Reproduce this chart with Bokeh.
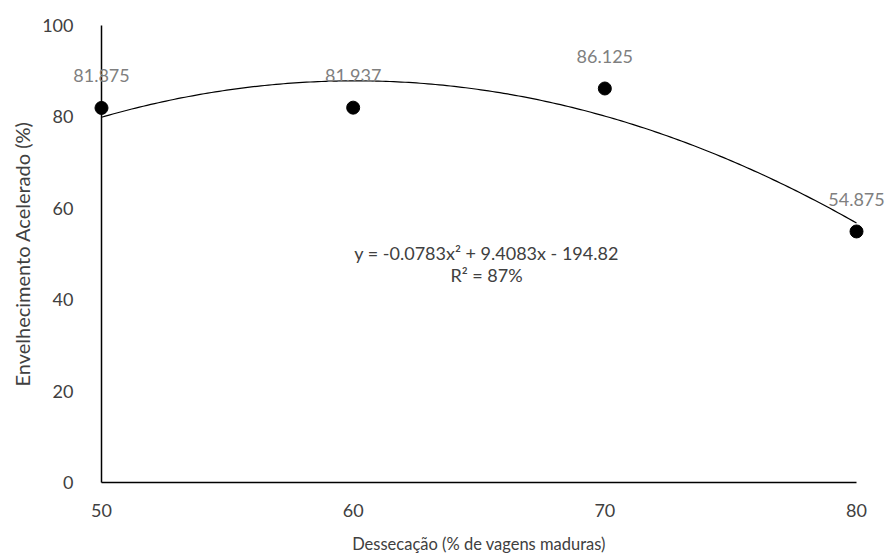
import numpy as np
from bokeh.plotting import figure
from bokeh.models import Range1d, ColumnDataSource, LabelSet, Label, FixedTicker
from bokeh.core.properties import value
from bokeh.embed import file_html
from bokeh.resources import INLINE

# data
dessecacao = [50, 60, 70, 80]
envelhecimento = [81.875, 81.9375, 86.125, 54.875]
point_labels = ["81.875", "81.937", "86.125", "54.875"]
x_ticks = [50, 60, 70, 80]
y_ticks = [0, 20, 40, 60, 80, 100]
# trendline coefficients (as printed on the chart)
coef_a, coef_b, coef_c = -0.0783, 9.4083, -194.82
equation_text = "y = -0.0783x\u00b2 + 9.4083x - 194.82"
r2_text = "R\u00b2 = 87%"

FONT = "Lato"
TXT = "#404040"

p = figure(width=885, height=560, output_backend="svg", toolbar_location=None,
           x_range=Range1d(45.987, 81.152), y_range=Range1d(-17.05, 105.36),
           min_border_left=0, min_border_right=0, min_border_top=0, min_border_bottom=0)
p.outline_line_color = None
p.xgrid.grid_line_color = None
p.ygrid.grid_line_color = None
p.background_fill_color = "white"
p.border_fill_color = "white"

# x axis
xa = p.xaxis[0]
xa.fixed_location = 0
xa.ticker = FixedTicker(ticks=x_ticks)
xa.bounds = (x_ticks[0], x_ticks[-1])
xa.axis_line_color = "black"
xa.axis_line_width = 1.5
xa.major_tick_line_color = None
xa.minor_tick_line_color = None
xa.major_label_standoff = 16
xa.major_label_text_font = FONT
xa.major_label_text_font_size = "18px"
xa.major_label_text_color = TXT
xa.axis_label = "Dessecação (% de vagens maduras)"
xa.axis_label_text_font = FONT
xa.axis_label_text_font_size = "16.5px"
xa.axis_label_text_font_style = "normal"
xa.axis_label_text_color = TXT
xa.axis_label_standoff = 13

# y axis
ya = p.yaxis[0]
ya.fixed_location = 50
ya.ticker = FixedTicker(ticks=y_ticks)
ya.bounds = (y_ticks[0], y_ticks[-1])
ya.axis_line_color = "black"
ya.axis_line_width = 1.5
ya.major_tick_line_color = None
ya.minor_tick_line_color = None
ya.major_label_standoff = 22
ya.major_label_text_font = FONT
ya.major_label_text_font_size = "18px"
ya.major_label_text_color = TXT
ya.axis_label = "Envelhecimento Acelerado (%)"
ya.axis_label_text_font = FONT
ya.axis_label_text_font_size = "20px"
ya.axis_label_text_font_style = "normal"
ya.axis_label_text_color = TXT
ya.axis_label_standoff = 5

# trendline from the printed equation
xs = np.linspace(dessecacao[0], dessecacao[-1], 200)
ys = coef_a * xs ** 2 + coef_b * xs + coef_c
p.line(xs, ys, line_color="black", line_width=1.2)

src = ColumnDataSource(dict(x=dessecacao, y=envelhecimento, lab=point_labels))
p.scatter("x", "y", source=src, size=13, color="black")

labels = LabelSet(x="x", y="y", text="lab", source=src, y_offset=32,
                  text_align="center", text_baseline="middle",
                  text_font=value(FONT), text_font_size=value("18px"),
                  text_color="#7f7f7f")
p.add_layout(labels)

p.add_layout(Label(x=65.3, y=50.27, text=equation_text, text_align="center",
                   text_baseline="middle", text_font=FONT, text_font_size="18px",
                   text_color=TXT))
p.add_layout(Label(x=65.3, y=45.46, text=r2_text, text_align="center",
                   text_baseline="middle", text_font=FONT, text_font_size="18px",
                   text_color=TXT))

open("out.html", "w").write(file_html(p, INLINE))
